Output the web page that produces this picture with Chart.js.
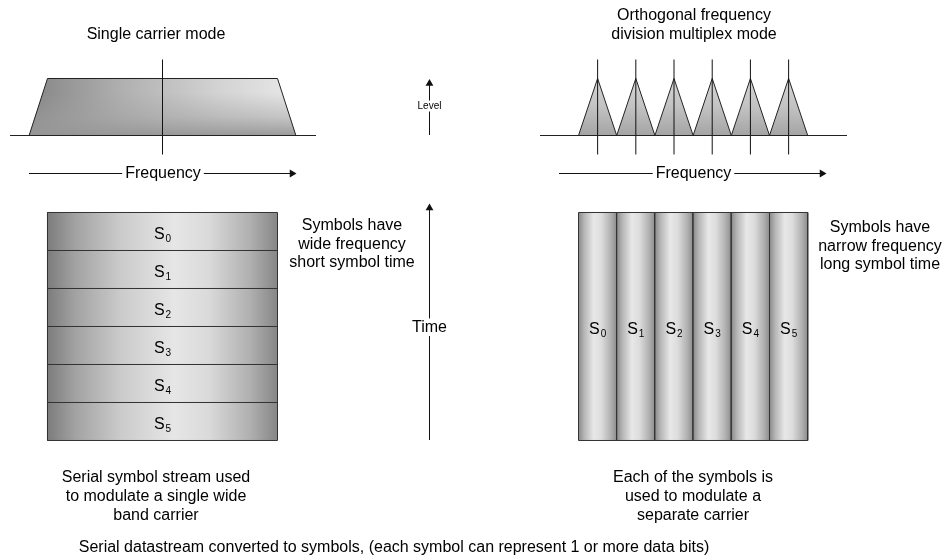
<!DOCTYPE html>
<html>
<head>
<meta charset="utf-8">
<script src="https://cdn.jsdelivr.net/npm/chart.js@4/dist/chart.umd.min.js"></script>
<style>
  html, body { margin: 0; padding: 0; background: #fff; }
  #wrap { width: 952px; height: 560px; position: relative; }
</style>
</head>
<body>
<div id="wrap"><canvas id="ofdmChart"></canvas></div>
<script>
// single carrier spectrum (frequency in band half-widths, relative level)
const singleBandFreq = [-1.16, -1, 1, 1.16];
const singleBandLevel = [0, 1, 1, 0];

// OFDM sub-carriers (centre frequency index, peak level, half bandwidth)
const carrierFreq = [1, 2, 3, 4, 5, 6];
const carrierLevel = [1, 1, 1, 1, 1, 1];
const carrierHalfWidth = 0.5;

// symbols S0..S5, each one time slot (single carrier) or one carrier (OFDM)
const symbolIndex = [0, 1, 2, 3, 4, 5];
const symbolSlots = 6;

// texts
const singleTitle = ['Single carrier mode'];
const ofdmTitle = ['Orthogonal frequency', 'division multiplex mode'];
const singleNote = ['Symbols have', 'wide frequency', 'short symbol time'];
const ofdmNote = ['Symbols have', 'narrow frequency', 'long symbol time'];
const singleCaption = ['Serial symbol stream used', 'to modulate a single wide', 'band carrier'];
const ofdmCaption = ['Each of the symbols is', 'used to modulate a', 'separate carrier'];
const footer = ['Serial datastream converted to symbols, (each symbol can represent 1 or more data bits)'];
const axisNames = ['Frequency', 'Level', 'Time'];

const FONT = "'Liberation Sans', Arial, sans-serif";

function grad(chart, x0, y0, x1, y1, stops) {
    const g = chart.ctx.createLinearGradient(x0, y0, x1, y1);
    stops.forEach(s => g.addColorStop(s[0], s[1]));
    return g;
}

const datasets = [];
function add(ds) {
    datasets.push(Object.assign({
        showLine: true,
        pointRadius: 0,
        borderWidth: 1,
        borderColor: '#000',
        backgroundColor: 'rgba(0,0,0,0)',
        fill: false
    }, ds));
}

// --- single carrier spectrum ---
const trapezoid = singleBandFreq.map((f, i) => ({ x: f, y: singleBandLevel[i] }));
add({
    data: trapezoid, xAxisID: 'xSC', yAxisID: 'yLev', fill: { value: 0 }, borderWidth: 0,
    backgroundColor: (c) => {
        const ch = c.chart;
        if (!ch.chartArea) return '#bbb';
        const s = ch.scales.xSC;
        return grad(ch, s.getPixelForValue(-1.16), 0, s.getPixelForValue(1.16), 0,
            [[0, '#858585'], [0.35, '#b0b0b0'], [0.7, '#d2d2d2'], [1, '#e8e8e8']]);
    }
});
add({
    data: trapezoid, xAxisID: 'xSC', yAxisID: 'yLev', fill: { value: 0 }, borderColor: '#222',
    backgroundColor: (c) => {
        const ch = c.chart;
        if (!ch.chartArea) return 'rgba(0,0,0,0)';
        const s = ch.scales.yLev;
        return grad(ch, 0, s.getPixelForValue(0), 0, s.getPixelForValue(0.75),
            [[0, 'rgba(150,150,150,0.95)'], [0.45, 'rgba(160,160,160,0.45)'], [1, 'rgba(160,160,160,0)']]);
    }
});
add({ data: [{ x: 0, y: -0.333 }, { x: 0, y: 1.333 }], xAxisID: 'xSC', yAxisID: 'yLev', borderColor: '#111' });

// --- OFDM spectrum ---
carrierFreq.forEach((f, i) => {
    add({
        data: [{ x: f - carrierHalfWidth, y: 0 }, { x: f, y: carrierLevel[i] }, { x: f + carrierHalfWidth, y: 0 }],
        xAxisID: 'xOF', yAxisID: 'yLev', fill: { value: 0 }, borderColor: '#222',
        backgroundColor: (c) => {
            const ch = c.chart;
            if (!ch.chartArea) return '#bbb';
            const s = ch.scales.yLev;
            return grad(ch, 0, s.getPixelForValue(1), 0, s.getPixelForValue(0),
                [[0, '#d6d6d6'], [0.5, '#c2c2c2'], [1, '#a4a4a4']]);
        }
    });
});
carrierFreq.forEach(f => {
    add({ data: [{ x: f, y: -0.333 }, { x: f, y: 1.333 }], xAxisID: 'xOF', yAxisID: 'yLev', borderColor: '#111' });
});

// --- single carrier symbol stream (time slots across full band) ---
symbolIndex.forEach(k => {
    add({
        data: [{ x: -1, y: k }, { x: 1, y: k }], xAxisID: 'xSC', yAxisID: 'yTime',
        fill: { value: k + 1 }, borderColor: '#333',
        backgroundColor: (c) => {
            const ch = c.chart;
            if (!ch.chartArea) return '#ccc';
            const s = ch.scales.xSC;
            return grad(ch, s.getPixelForValue(-1), 0, s.getPixelForValue(1), 0,
                [[0, '#7c7c7c'], [0.12, '#a2a2a2'], [0.32, '#cbcbcb'], [0.55, '#e6e6e6'],
                 [0.7, '#dadada'], [0.88, '#b0b0b0'], [1, '#868686']]);
        }
    });
});
add({
    data: [{ x: -1, y: 0 }, { x: -1, y: symbolSlots }, { x: 1, y: symbolSlots }, { x: 1, y: 0 }],
    xAxisID: 'xSC', yAxisID: 'yTime', borderColor: '#333'
});

// --- OFDM symbols (one carrier each, full time) ---
symbolIndex.forEach(k => {
    const f = carrierFreq[k];
    add({
        data: [{ x: f - carrierHalfWidth, y: 0 }, { x: f + carrierHalfWidth, y: 0 }], xAxisID: 'xOF', yAxisID: 'yTime',
        fill: { value: symbolSlots }, borderWidth: 0,
        backgroundColor: (c) => {
            const ch = c.chart;
            if (!ch.chartArea) return '#ccc';
            const s = ch.scales.xOF;
            return grad(ch, s.getPixelForValue(f - carrierHalfWidth), 0, s.getPixelForValue(f + carrierHalfWidth), 0,
                [[0, '#8a8a8a'], [0.15, '#b6b6b6'], [0.4, '#e8e8e8'], [0.6, '#dcdcdc'], [0.85, '#b0b0b0'], [1, '#8c8c8c']]);
        }
    });
    add({
        data: [{ x: f - carrierHalfWidth, y: 0 }, { x: f + carrierHalfWidth, y: 0 },
               { x: f + carrierHalfWidth, y: symbolSlots }, { x: f - carrierHalfWidth, y: symbolSlots },
               { x: f - carrierHalfWidth, y: 0 }],
        xAxisID: 'xOF', yAxisID: 'yTime', borderColor: '#333'
    });
});

// --- axis lines and arrows (page layout) ---
const arrow = (pts, rot) => add({
    data: pts, xAxisID: 'xPx', yAxisID: 'yPx', borderColor: '#111',
    pointRadius: [0, 4.5], pointStyle: 'triangle', pointRotation: rot,
    pointBackgroundColor: '#111', pointBorderWidth: 0
});
add({ data: [{ x: 10, y: 135.5 }, { x: 316, y: 135.5 }], xAxisID: 'xPx', yAxisID: 'yPx', borderColor: '#222' });
add({ data: [{ x: 540, y: 135.5 }, { x: 847, y: 135.5 }], xAxisID: 'xPx', yAxisID: 'yPx', borderColor: '#222' });
arrow([{ x: 29, y: 173.5 }, { x: 292, y: 173.5 }], 90);
arrow([{ x: 559, y: 173.5 }, { x: 822, y: 173.5 }], 90);
arrow([{ x: 429.5, y: 135 }, { x: 429.5, y: 83.5 }], 0);
arrow([{ x: 429.5, y: 440 }, { x: 429.5, y: 208 }], 0);

// first added is drawn first
datasets.forEach((d, i) => { d.order = datasets.length - i; });

const textPlugin = {
    id: 'diagramText',
    afterDatasetsDraw(chart) {
        const ctx = chart.ctx;
        const sc = chart.scales;
        ctx.save();
        ctx.fillStyle = '#000';
        ctx.textAlign = 'center';
        ctx.textBaseline = 'alphabetic';

        const block = (lines, x, y, size, lh) => {
            ctx.font = size + 'px ' + FONT;
            lines.forEach((t, i) => ctx.fillText(t, x, y + i * lh));
        };
        const boxed = (t, x, y, size) => {
            ctx.font = size + 'px ' + FONT;
            const w = ctx.measureText(t).width + 6;
            ctx.fillStyle = '#fff';
            ctx.fillRect(x - w / 2, y - size * 0.85, w, size * 1.1);
            ctx.fillStyle = '#000';
            ctx.fillText(t, x, y);
        };

        block(singleTitle, 156, 39, 16, 19);
        block(ofdmTitle, 694, 20, 16, 19);
        block(singleNote, 352, 230, 16, 18.5);
        block(ofdmNote, 880, 232, 16, 18.5);
        block(singleCaption, 156, 482, 16, 19);
        block(ofdmCaption, 693, 482, 16, 19);
        block(footer, 394, 552, 16, 19);

        boxed(axisNames[0], 163, 178, 16);
        boxed(axisNames[0], 693.5, 178, 16);
        boxed(axisNames[1], 429.5, 109, 10);
        boxed(axisNames[2], 429.5, 332, 16);

        const symbol = (k, cx, base) => {
            ctx.font = '16px ' + FONT;
            const wS = ctx.measureText('S').width;
            ctx.font = '10px ' + FONT;
            const wD = ctx.measureText(String(k)).width;
            const x0 = cx - (wS + wD + 1) / 2;
            ctx.textAlign = 'left';
            ctx.font = '16px ' + FONT;
            ctx.fillText('S', x0, base);
            ctx.font = '10px ' + FONT;
            ctx.fillText(String(k), x0 + wS + 1, base + 3);
            ctx.textAlign = 'center';
        };
        symbolIndex.forEach(k => {
            symbol(k, sc.xSC.getPixelForValue(0), sc.yTime.getPixelForValue(k + 0.5) + 8);
            symbol(k, sc.xOF.getPixelForValue(carrierFreq[k]), sc.yTime.getPixelForValue(symbolSlots / 2) + 8);
        });
        ctx.restore();
    }
};

const hidden = (axis, min, max, reverse) => ({
    type: 'linear', axis: axis, position: axis === 'x' ? 'bottom' : 'left',
    display: false, min: min, max: max, bounds: 'data', reverse: !!reverse
});

new Chart(document.getElementById('ofdmChart'), {
    type: 'scatter',
    data: { datasets: datasets },
    options: {
        responsive: true,
        maintainAspectRatio: false,
        animation: false,
        events: [],
        layout: { padding: 0, autoPadding: false },
        plugins: {
            legend: { display: false },
            tooltip: { enabled: false },
            title: { display: false }
        },
        scales: {
            xSC: hidden('x', -1.413, 6.865),
            xOF: hidden('x', -14.644, 10.277),
            xPx: hidden('x', 0, 952),
            yLev: hidden('y', -7.447, 2.377),
            yTime: hidden('y', -5.592, 9.145, true),
            yPx: hidden('y', 0, 560, true)
        }
    },
    plugins: [textPlugin]
});
</script>
</body>
</html>
